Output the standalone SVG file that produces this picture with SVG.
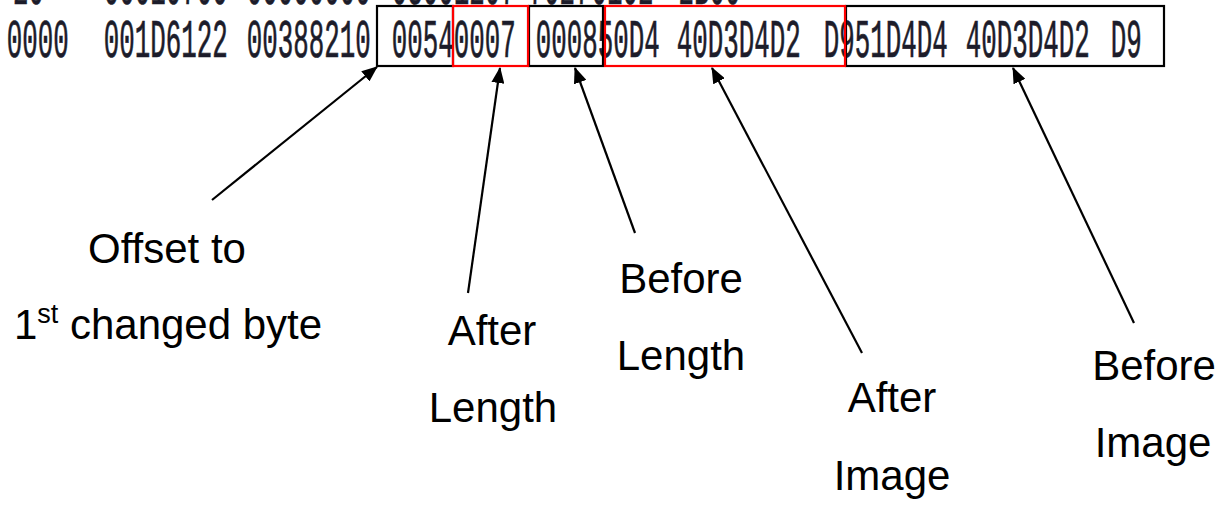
<svg xmlns="http://www.w3.org/2000/svg" width="1225" height="506" viewBox="0 0 1225 506">
<defs>
<style>
.hex{font-family:"Liberation Mono","DejaVu Sans Mono",monospace;font-size:54px;fill:#1c1c2a;stroke:#1c1c2a;stroke-width:0.7}
.lbl{font-family:"Liberation Sans",Arial,sans-serif;font-size:42px;fill:#000;text-anchor:middle}
.bk{fill:none;stroke:#000;stroke-width:2.2}
.rd{fill:none;stroke:#ff0000;stroke-width:2.2}
.conn line{stroke:#000;stroke-width:2.2}
</style>
<marker id="ah" viewBox="0 0 16 13" refX="15" refY="6.5" markerWidth="16" markerHeight="13" markerUnits="userSpaceOnUse" orient="auto">
<path d="M0,0 L16,6.5 L0,13 z" fill="#000"/>
</marker>
</defs>
<rect width="1225" height="506" fill="#fff"/>
<g id="hexdump">
<text class="hex" x="13" y="4" textLength="31" lengthAdjust="spacingAndGlyphs">20</text>
<text class="hex" x="103.7" y="4" textLength="124" lengthAdjust="spacingAndGlyphs">00010700</text>
<text class="hex" x="246.7" y="4" textLength="124" lengthAdjust="spacingAndGlyphs">00000000</text>
<text class="hex" x="391.7" y="4" textLength="124" lengthAdjust="spacingAndGlyphs">03001207</text>
<text class="hex" x="528.5" y="4" textLength="62" lengthAdjust="spacingAndGlyphs">7027</text>
<text class="hex" x="591.5" y="4" textLength="62" lengthAdjust="spacingAndGlyphs">0102</text>
<text class="hex" x="678.5" y="4" textLength="62" lengthAdjust="spacingAndGlyphs">2B00</text>
<text class="hex" x="6.7" y="57" textLength="62" lengthAdjust="spacingAndGlyphs">0000</text>
<text class="hex" x="103.7" y="57" textLength="124" lengthAdjust="spacingAndGlyphs">001D6122</text>
<text class="hex" x="246.7" y="57" textLength="124" lengthAdjust="spacingAndGlyphs">00388210</text>
<text class="hex" x="391.7" y="57" textLength="124" lengthAdjust="spacingAndGlyphs">00540007</text>
<text class="hex" x="535.7" y="57" textLength="124" lengthAdjust="spacingAndGlyphs">000850D4</text>
<text class="hex" x="676.7" y="57" textLength="124" lengthAdjust="spacingAndGlyphs">40D3D4D2</text>
<text class="hex" x="823.7" y="57" textLength="124" lengthAdjust="spacingAndGlyphs">D951D4D4</text>
<text class="hex" x="965.7" y="57" textLength="124" lengthAdjust="spacingAndGlyphs">40D3D4D2</text>
<text class="hex" x="1110.7" y="57" textLength="31" lengthAdjust="spacingAndGlyphs">D9</text>
</g>
<g id="box-offset"><rect class="bk" x="377" y="6" width="76" height="60"/></g>
<g id="box-before-length"><rect class="bk" x="529" y="6" width="74" height="60"/></g>
<g id="box-before-image"><rect class="bk" x="846" y="6" width="318" height="60"/></g>
<g id="box-after-length"><rect class="rd" x="453" y="6" width="75" height="60"/></g>
<g id="box-after-image"><rect class="rd" x="605" y="6" width="240" height="60"/></g>
<g id="connectors" class="conn">
<line x1="212" y1="200" x2="377" y2="67" marker-end="url(#ah)"/>
<line x1="468" y1="293" x2="500" y2="68" marker-end="url(#ah)"/>
<line x1="635" y1="233" x2="575" y2="68" marker-end="url(#ah)"/>
<line x1="862" y1="353" x2="712" y2="68" marker-end="url(#ah)"/>
<line x1="1134" y1="323" x2="1013" y2="68" marker-end="url(#ah)"/>
</g>
<g id="label-offset">
<text class="lbl" x="167" y="263">Offset to</text>
<text class="lbl" x="168" y="339">1<tspan font-size="27" dy="-16">st</tspan><tspan dy="16"> changed byte</tspan></text>
</g>
<g id="label-after-length">
<text class="lbl" x="492" y="345">After</text>
<text class="lbl" x="493" y="422">Length</text>
</g>
<g id="label-before-length">
<text class="lbl" x="681" y="293">Before</text>
<text class="lbl" x="681" y="370">Length</text>
</g>
<g id="label-after-image">
<text class="lbl" x="892" y="412">After</text>
<text class="lbl" x="892" y="490">Image</text>
</g>
<g id="label-before-image">
<text class="lbl" x="1154" y="380">Before</text>
<text class="lbl" x="1153" y="457">Image</text>
</g>
</svg>
